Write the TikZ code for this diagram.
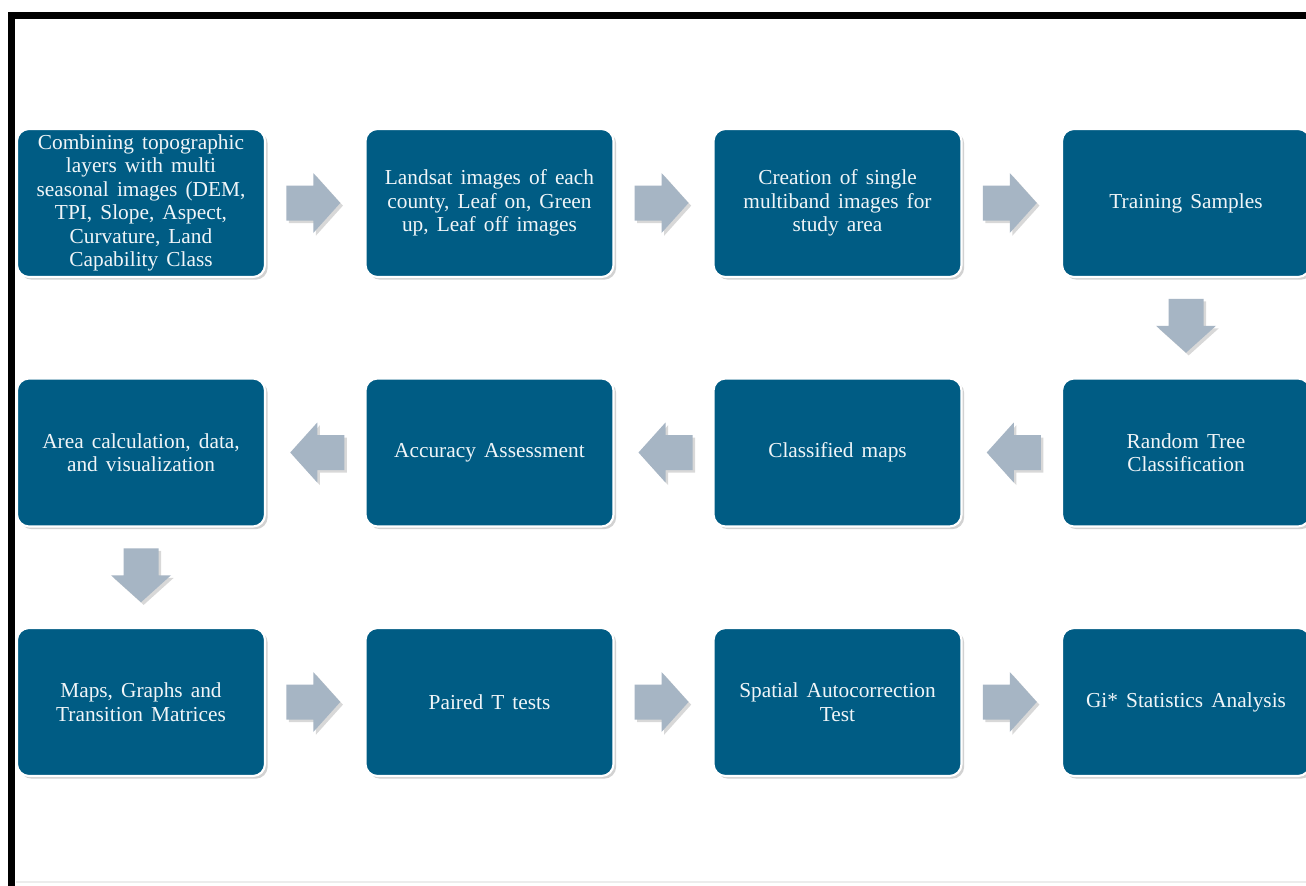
\documentclass[tikz,border=0pt]{standalone}
\usepackage{fontspec}
\setmainfont{Liberation Serif}
\usetikzlibrary{shadows,calc}
\definecolor{boxblue}{RGB}{0,92,132}
\definecolor{arrowgray}{RGB}{166,181,196}
\newcommand{\boxfont}{\fontsize{16}{17.6}\selectfont\spaceskip=0.38em plus 0.1em\relax}
\tikzset{
  stepbox/.style={draw=white, line width=1.6pt, fill=boxblue, rounded corners=9pt,
    minimum width=186pt, minimum height=111pt, text=white!94!boxblue, align=center,
    font=\boxfont,
    drop shadow={opacity=0.35, shadow xshift=2pt, shadow yshift=-2pt}},
  pics/barrow/.style={code={
    \fill[arrowgray, drop shadow={opacity=0.3, shadow xshift=2pt, shadow yshift=-2pt}]
      (-27,-17.5) -- (0,-17.5) -- (0,-30) -- (27,0) -- (0,30) -- (0,17.5) -- (-27,17.5) -- cycle;
  }}
}
\begin{document}
\begin{tikzpicture}[x=0.75pt, y=-0.75pt]
\useasboundingbox (0,0) rectangle (1306,885);
\fill[white] (0,0) rectangle (1306,885);
\clip (0,0) rectangle (1306,885);
% frame
\draw[gray!15, line width=1.5pt] (16,882) -- (1310,882);
\draw[black, line width=5.2pt] (11.5,900) -- (11.5,15.5) -- (1320,15.5);
% row 1
\node[stepbox] (b1) at (141,203) {Combining topographic\\layers with multi\\seasonal images (DEM,\\TPI, Slope, Aspect,\\Curvature, Land\\Capability Class};
\node[stepbox] (b2) at (489.5,203) {Landsat images of each\\county, Leaf on, Green\\up, Leaf off images};
\node[stepbox] (b3) at (837.5,203) {Creation of single\\multiband images for\\study area};
\node[stepbox] (b4) at (1186,203) {Training Samples};
% row 2
\node[stepbox] (b5) at (141,452.5) {Area calculation, data,\\and visualization};
\node[stepbox] (b6) at (489.5,452.5) {Accuracy Assessment};
\node[stepbox] (b7) at (837.5,452.5) {Classified maps};
\node[stepbox] (b8) at (1186,452.5) {Random Tree\\Classification};
% row 3
\node[stepbox] (b9) at (141,702) {Maps, Graphs and\\Transition Matrices};
\node[stepbox] (b10) at (489.5,702) {Paired T tests};
\node[stepbox] (b11) at (837.5,702) {Spatial Autocorrection\\Test};
\node[stepbox] (b12) at (1186,702) {Gi* Statistics Analysis};
% arrows
\pic at ($(b1.east)!0.5!(b2.west)+(-2,0)$) {barrow};
\pic at ($(b2.east)!0.5!(b3.west)+(-2,0)$) {barrow};
\pic at ($(b3.east)!0.5!(b4.west)+(-2,0)$) {barrow};
\pic[rotate=-90] at ($(b4.south)!0.5!(b8.north)+(0,-2)$) {barrow};
\pic[rotate=180] at ($(b8.west)!0.5!(b7.east)+(2,0)$) {barrow};
\pic[rotate=180] at ($(b7.west)!0.5!(b6.east)+(2,0)$) {barrow};
\pic[rotate=180] at ($(b6.west)!0.5!(b5.east)+(2,0)$) {barrow};
\pic[rotate=-90] at ($(b5.south)!0.5!(b9.north)+(0,-2)$) {barrow};
\pic at ($(b9.east)!0.5!(b10.west)+(-2,0)$) {barrow};
\pic at ($(b10.east)!0.5!(b11.west)+(-2,0)$) {barrow};
\pic at ($(b11.east)!0.5!(b12.west)+(-2,0)$) {barrow};
\end{tikzpicture}
\end{document}
